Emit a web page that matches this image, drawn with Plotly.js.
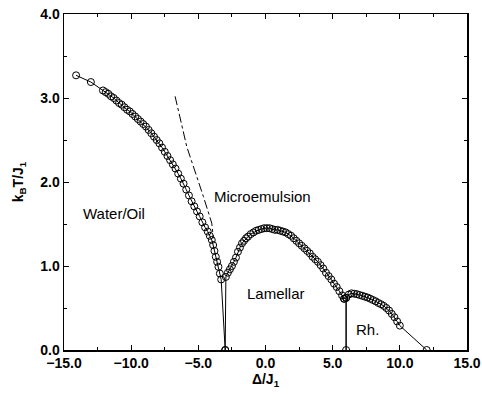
<!DOCTYPE html>
<html>
<head>
<meta charset="utf-8">
<script src="https://cdn.plot.ly/plotly-3.0.1.min.js"></script>
<style>html,body{margin:0;padding:0;background:#fff;}#chart{width:482px;height:397px;}</style>
</head>
<body>
<div id="chart"></div>
<script>
// Water/Oil boundary (left branch), down to the triple point at Delta = -3
var leftX = [-14.1, -13.0, -12.1, -11.9, -11.7, -11.5, -11.3, -11.1, -10.9, -10.7, -10.5, -10.3, -10.1, -9.9, -9.7, -9.5, -9.3, -9.1, -8.9, -8.7, -8.5, -8.3, -8.1, -7.9, -7.7, -7.5, -7.3, -7.1, -6.9, -6.7, -6.5, -6.3, -6.1, -5.9, -5.7, -5.5, -5.3, -5.1, -4.9, -4.7, -4.5, -4.3, -4.15, -4.0, -3.9, -3.8, -3.7, -3.6, -3.5, -3.4, -3.3, -3.0];
var leftY = [3.27, 3.19, 3.09, 3.07, 3.05, 3.02, 3.00, 2.97, 2.94, 2.92, 2.89, 2.86, 2.84, 2.81, 2.78, 2.75, 2.72, 2.69, 2.66, 2.62, 2.58, 2.54, 2.50, 2.46, 2.41, 2.36, 2.31, 2.26, 2.21, 2.16, 2.10, 2.04, 1.98, 1.91, 1.84, 1.77, 1.71, 1.65, 1.59, 1.52, 1.46, 1.41, 1.36, 1.31, 1.25, 1.18, 1.11, 1.05, 0.99, 0.91, 0.84, 0.0];
// Lamellar dome
var domeX = [-3.0, -2.95, -2.8, -2.65, -2.5, -2.35, -2.2, -2.05, -1.9, -1.75, -1.6, -1.45, -1.3, -1.1, -0.9, -0.7, -0.5, -0.3, -0.1, 0.1, 0.3, 0.5, 0.7, 0.9, 1.1, 1.3, 1.5, 1.7, 1.9, 2.1, 2.3, 2.5, 2.7, 2.9, 3.1, 3.3, 3.5, 3.7, 3.9, 4.1, 4.3, 4.5, 4.7, 4.9, 5.1, 5.3, 5.5, 5.7, 5.85];
var domeY = [0.0, 0.87, 0.92, 0.96, 1.00, 1.05, 1.10, 1.17, 1.22, 1.27, 1.30, 1.33, 1.35, 1.38, 1.40, 1.42, 1.43, 1.44, 1.45, 1.45, 1.45, 1.44, 1.43, 1.43, 1.42, 1.41, 1.40, 1.38, 1.36, 1.33, 1.30, 1.27, 1.24, 1.21, 1.18, 1.15, 1.11, 1.08, 1.05, 1.01, 0.97, 0.92, 0.88, 0.84, 0.79, 0.75, 0.70, 0.65, 0.61];
// Lamellar / Rh. vertical boundary
var vertX = [6.0, 6.0];
var vertY = [0.0, 0.62];
// Rhombohedral branch
var rhX = [5.85, 6.0, 6.2, 6.4, 6.6, 6.8, 7.0, 7.2, 7.4, 7.6, 7.8, 8.0, 8.2, 8.4, 8.6, 8.8, 9.0, 9.2, 9.4, 9.6, 9.8, 10.0, 12.0];
var rhY = [0.61, 0.62, 0.66, 0.675, 0.67, 0.665, 0.655, 0.645, 0.635, 0.625, 0.61, 0.595, 0.58, 0.56, 0.545, 0.525, 0.50, 0.47, 0.43, 0.39, 0.34, 0.29, 0.0];
// Microemulsion (dash-dot) line
var microX = [-6.73, -5.86, -4.63, -4.0, -3.88];
var microY = [3.02, 2.42, 1.83, 1.51, 1.33];
// Region labels
var labelText = ["Water/Oil", "Microemulsion", "Lamellar", "Rh."];
var labelX = [-11.28, -0.26, 0.79, 7.6];
var labelY = [1.63, 1.83, 0.67, 0.24];

var mk = {symbol: 'circle-open', size: 7, color: '#000', line: {width: 1, color: '#000'}};
var ln = {color: '#000', width: 1};

var traces = [
  {x: leftX, y: leftY, mode: 'lines+markers', marker: mk, line: ln},
  {x: domeX, y: domeY, mode: 'lines+markers', marker: mk, line: ln},
  {x: vertX, y: vertY, mode: 'lines+markers', marker: mk, line: {color: '#000', width: 1.5}},
  {x: rhX, y: rhY, mode: 'lines+markers', marker: mk, line: ln},
  {x: microX, y: microY, mode: 'lines', line: {color: '#000', width: 1, dash: 'dashdot'}}
];

var annotations = labelText.map(function(t, i) {
  return {x: labelX[i], y: labelY[i], xref: 'x', yref: 'y', text: t, showarrow: false,
    font: {family: 'Liberation Sans, Arial, sans-serif', size: 15, color: '#000'}};
});

var axisCommon = {
  showline: true, linecolor: '#000', linewidth: 1.5, mirror: 'ticks',
  ticks: 'inside', ticklen: 5, tickwidth: 1, tickcolor: '#000',
  showgrid: false, zeroline: false, tickformat: '.1f',
  tickfont: {family: 'Liberation Sans, Arial, sans-serif', size: 14, color: '#000', weight: 'bold'},
  minor: {ticks: 'inside', ticklen: 3, tickwidth: 1, tickcolor: '#000', showgrid: false}
};

var layout = {
  width: 482, height: 397,
  margin: {l: 64, r: 15, t: 14, b: 47},
  paper_bgcolor: '#fff', plot_bgcolor: '#fff',
  showlegend: false,
  xaxis: Object.assign({}, axisCommon, {
    range: [-15, 15], dtick: 5, tick0: -15, minor: Object.assign({}, axisCommon.minor, {dtick: 2.5}),
    title: {text: 'Δ/J<sub>1</sub>', standoff: 4,
      font: {family: 'Liberation Sans, Arial, sans-serif', size: 14, color: '#000', weight: 'bold'}}
  }),
  yaxis: Object.assign({}, axisCommon, {
    range: [0, 4], dtick: 1, tick0: 0, minor: Object.assign({}, axisCommon.minor, {dtick: 0.5}),
    title: {text: 'k<sub>B</sub>T/J<sub>1</sub>', standoff: 13,
      font: {family: 'Liberation Sans, Arial, sans-serif', size: 14, color: '#000', weight: 'bold'}}
  }),
  annotations: annotations
};

Plotly.newPlot('chart', traces, layout, {displayModeBar: false, staticPlot: true});
</script>
</body>
</html>
